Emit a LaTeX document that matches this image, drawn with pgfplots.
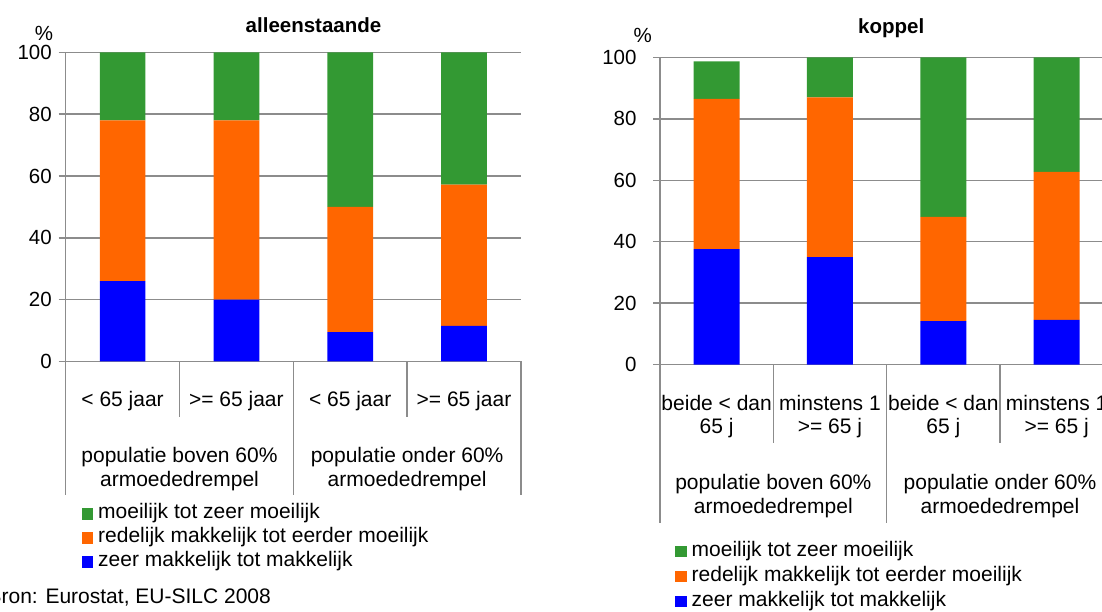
\documentclass[border=0pt]{standalone}
\usepackage{pgfplots}
\pgfplotsset{compat=1.18}
\usepackage{fontspec}
\setmainfont{Liberation Sans}

\definecolor{cgreen}{HTML}{339933}
\definecolor{corange}{HTML}{FF6600}
\definecolor{cblue}{HTML}{0000FF}
\definecolor{gridgray}{HTML}{8C8C8C}
\newcommand\fs{\fontsize{21}{23.5}\selectfont}
\newcommand\fn{\fontsize{20.5}{23.5}\selectfont}

\tikzset{divider/.style={draw=gridgray, line width=1.5pt}}

\pgfplotsset{
  chart/.style={
    scale only axis,
    ybar stacked,
    ymin=0, ymax=100,
    xmin=-0.5, xmax=3.5,
    enlargelimits=false,
    axis lines=left,
    axis line style={-, draw=gridgray, line width=1.5pt},
    ytick={0,20,...,100},
    ymajorgrids,
    grid style={draw=gridgray, line width=1.5pt},
    tick align=outside,
    major tick length=7pt,
    xtick={0,1,2,3},
    xtick style={draw=none},
    ytick style={draw=gridgray, line width=1.5pt},
    ticklabel style={font=\fn, inner sep=0pt},
    xticklabel style={font=\fs, align=center, anchor=center},
    /pgf/number format/assume math mode=true,
    clip=false,
    reverse legend,
    legend cell align=left,
    legend image code/.code={\fill[##1] (0pt,-5.75pt) rectangle (11.5pt,5.75pt);},
    legend style={draw=none, fill=none, font=\fs, anchor=north west,
      inner sep=0pt, column sep=5pt,
      nodes={inner sep=0pt, text height=14pt, text depth=5pt}},
  },
}

\begin{document}
\begin{tikzpicture}

% alleenstaande
\begin{axis}[chart,
  at={(65.7pt,250.5pt)}, anchor=south west,
  width=455.2pt, height=309.2pt,
  bar width=45.7pt,
  xticklabels={{< 65 jaar},{>= 65 jaar},{< 65 jaar},{>= 65 jaar}},
  xticklabel style={yshift=-32.5pt},
  yticklabel style={xshift=-6.7pt},
  legend style={at={(0.0347,-0.4625)}, row sep=5pt},
]
\addplot[fill=cblue, draw=none] coordinates {(0,26) (1,20) (2,9.5) (3,11.5)};
\addlegendentry{zeer makkelijk tot makkelijk}
\addplot[fill=corange, draw=none] coordinates {(0,52) (1,58) (2,40.5) (3,45.7)};
\addlegendentry{redelijk makkelijk tot eerder moeilijk}
\addplot[fill=cgreen, draw=none] coordinates {(0,22) (1,22) (2,50) (3,42.8)};
\addlegendentry{moeilijk tot zeer moeilijk}

\draw[divider] (axis cs:-0.5,0) -- ++(0pt,-133.5pt);
\draw[divider] (axis cs:0.5,0) -- ++(0pt,-56pt);
\draw[divider] (axis cs:1.5,0) -- ++(0pt,-133.5pt);
\draw[divider] (axis cs:2.5,0) -- ++(0pt,-56pt);
\draw[divider] (axis cs:3.5,0) -- ++(0pt,-133.5pt);
\node[font=\fs, align=center, inner sep=0pt] at ([yshift=-107.5pt]axis cs:0.5,0) {populatie boven 60\%\\armoededrempel};
\node[font=\fs, align=center, inner sep=0pt] at ([yshift=-107.5pt]axis cs:2.5,0) {populatie onder 60\%\\armoededrempel};
\end{axis}

% koppel
\begin{axis}[chart,
  at={(660pt,247.3pt)}, anchor=south west,
  width=453.3pt, height=307.4pt,
  bar width=46pt,
  xticklabels={{beide < dan\\65 j},{minstens 1\\>= 65 j},{beide < dan\\65 j},{minstens 1\\>= 65 j}},
  xticklabel style={yshift=-44.8pt},
  yticklabel style={xshift=-16.3pt},
  legend style={at={(0.0331,-0.5768)}, row sep=6pt},
]
\addplot[fill=cblue, draw=none] coordinates {(0,37.6) (1,35) (2,14.2) (3,14.6)};
\addlegendentry{zeer makkelijk tot makkelijk}
\addplot[fill=corange, draw=none] coordinates {(0,48.9) (1,52) (2,33.9) (3,48.1)};
\addlegendentry{redelijk makkelijk tot eerder moeilijk}
\addplot[fill=cgreen, draw=none] coordinates {(0,12.2) (1,13) (2,51.9) (3,37.3)};
\addlegendentry{moeilijk tot zeer moeilijk}

\draw[divider] (axis cs:-0.5,0) -- ++(0pt,-158pt);
\draw[divider] (axis cs:0.5,0) -- ++(0pt,-78pt);
\draw[divider] (axis cs:1.5,0) -- ++(0pt,-158pt);
\draw[divider] (axis cs:2.5,0) -- ++(0pt,-78pt);
\draw[divider] (axis cs:3.5,0) -- ++(0pt,-158pt);
\node[font=\fs, align=center, inner sep=0pt] at ([yshift=-131.3pt]axis cs:0.5,0) {populatie boven 60\%\\armoededrempel};
\node[font=\fs, align=center, inner sep=0pt] at ([yshift=-131.3pt]axis cs:2.5,0) {populatie onder 60\%\\armoededrempel};
\end{axis}

\node[font=\fn\bfseries] at (313.5pt,587pt) {alleenstaande};
\node[font=\fn\bfseries] at (891.2pt,583.7pt) {koppel};
\node[font=\fn] at (43.9pt,579pt) {\%};
\node[font=\fn] at (642.7pt,577pt) {\%};
\node[font=\fs, anchor=base west, inner sep=0pt] at (-12.6pt,8pt) {Bron: Eurostat, EU-SILC 2008};

\pgfresetboundingbox
\useasboundingbox (0pt,0pt) rectangle (1102pt,612pt);
\end{tikzpicture}
\end{document}
